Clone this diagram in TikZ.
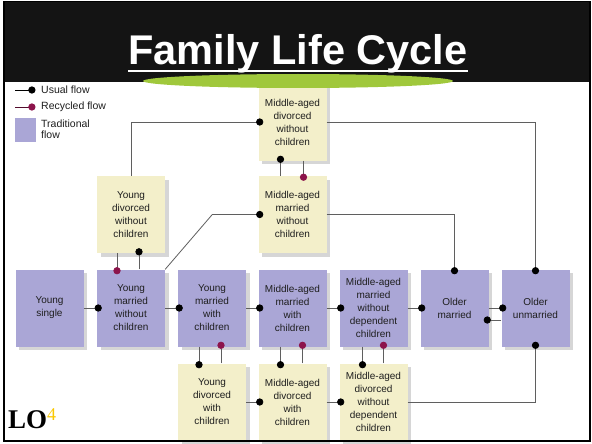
\documentclass[tikz,border=0pt]{standalone}
\usepackage{fontspec}
\setmainfont{Liberation Sans}
\newfontfamily\loserif{Liberation Serif}
\usetikzlibrary{arrows.meta,calc,shadows}

\definecolor{tradc}{RGB}{170,166,214}
\definecolor{altc}{RGB}{243,239,202}
\definecolor{shadowc}{RGB}{214,214,214}
\definecolor{linec}{RGB}{95,95,95}
\definecolor{recc}{RGB}{140,20,75}
\definecolor{loyellow}{RGB}{250,200,0}
\definecolor{bandc}{RGB}{20,20,20}
\definecolor{greenc}{RGB}{160,200,60}
\definecolor{textc}{RGB}{30,30,30}

\begin{document}
\begin{tikzpicture}[x=1pt,y=-1pt,
  stagebox/.style={minimum width=68pt, minimum height=77pt, inner sep=1pt,
    align=center, text=textc, font=\fontsize{10}{13}\selectfont,
    drop shadow={shadow xshift=3.5pt, shadow yshift=-3.5pt, fill=shadowc, opacity=1}},
  trad/.style={stagebox, fill=tradc},
  alt/.style={stagebox, fill=altc},
  conn/.style={draw=linec, line width=0.8pt, shorten >=-5pt},
  usual/.style={conn, -{Circle[length=7.2pt, color=black]}},
  recyc/.style={conn, -{Circle[length=7.2pt, color=recc]}},
  legtext/.style={anchor=west, inner sep=0pt, text=textc, font=\fontsize{10.5}{11}\selectfont}
]
\useasboundingbox (0,0) rectangle (592,444);
\fill[white] (0,0) rectangle (592,444);

% title band
\fill[bandc] (3,1) rectangle (591,82);
\node[anchor=base, inner sep=0pt, text=white,
      font=\fontsize{41.5}{41.5}\selectfont\bfseries] (title) at (298,65) {Family Life Cycle};
\draw[white, line width=2.5pt] ($(title.base west)+(0,6)$) -- ($(title.base east)+(0,6)$);

% legend
\coordinate (ua) at (15,90);
\coordinate (ub) at (35.5,90);
\coordinate (ra) at (15,107);
\coordinate (rb) at (35.5,107);
\draw[black, line width=0.8pt, -{Circle[length=7.2pt, color=black]}] (ua) -- (ub);
\draw[recc!60!black, line width=0.8pt, -{Circle[length=7.2pt, color=recc]}] (ra) -- (rb);
\node[legtext] (lu) at (41,90) {Usual flow};
\node[legtext] (lr) at (41,107) {Recycled flow};
\fill[tradc] (15,118) rectangle (36,142);
\node[legtext, anchor=north west, align=left] (lt) at (41,120) {Traditional\\flow};

% traditional stages
\node[trad] (ys)      at (49.5,308)  {Young\\single};
\node[trad] (ymwoc)   at (131,308)   {Young\\married\\without\\children};
\node[trad] (ymwc)    at (212,308)   {Young\\married\\with\\children};
\node[trad] (mamwc)   at (292.5,308) {Middle-aged\\married\\with\\children};
\node[trad] (mamwodc) at (373.5,308) {Middle-aged\\married\\without\\dependent\\children};
\node[trad] (om)      at (454.5,308) {Older\\married};
\node[trad] (ou)      at (535.5,308) {Older\\unmarried};

% other stages
\node[alt] (madwoc)  at (292.5,122)   {Middle-aged\\divorced\\without\\children};
\node[alt] (mamwoc)  at (292.5,214.5) {Middle-aged\\married\\without\\children};
\node[alt] (ydwoc)   at (131,214.5)   {Young\\divorced\\without\\children};
\node[alt] (ydwc)    at (212,402)     {Young\\divorced\\with\\children};
\node[alt] (madwc)   at (292.5,402)   {Middle-aged\\divorced\\with\\children};
\node[alt] (madwodc) at (373.5,402)   {Middle-aged\\divorced\\without\\dependent\\children};

% main sequence
\draw[usual] (ys) -- (ymwoc);
\draw[usual] (ymwoc) -- (ymwc);
\draw[usual] (ymwc) -- (mamwc);
\draw[usual] (mamwc) -- (mamwodc);
\draw[usual] (mamwodc) -- (om);
\draw[usual] (om.east) -- (ou.west);
\draw[usual] ($(ou.west)+(0,12)$) -- ($(om.east)+(0,12)$);

% young, without children
\draw[usual] ($(ymwoc.north)+(8,0)$) -- ($(ydwoc.south)+(8,0)$);
\draw[recyc] ($(ydwoc.south)+(-14,0)$) -- ($(ymwoc.north)+(-14,0)$);
\draw[usual] (ymwoc.north east) -- ($(mamwoc.west)+(-46,0)$) -- (mamwoc.west);
\draw[usual] (ydwoc.north) |- (madwoc.west);

% middle-aged, without children
\draw[usual] ($(mamwoc.north)+(-12,0)$) -- ($(madwoc.south)+(-12,0)$);
\draw[recyc] ($(madwoc.south)+(11,0)$) -- ($(mamwoc.north)+(11,0)$);
\draw[usual] (madwoc.east) -| (ou.north);
\draw[usual] (mamwoc.east) -| (om.north);

% divorced with children
\draw[usual] ($(ymwc.south)+(-13,0)$) -- ($(ydwc.north)+(-13,0)$);
\draw[recyc] ($(ydwc.north)+(9,0)$) -- ($(ymwc.south)+(9,0)$);
\draw[usual] ($(mamwc.south)+(-12,0)$) -- ($(madwc.north)+(-12,0)$);
\draw[recyc] ($(madwc.north)+(10,0)$) -- ($(mamwc.south)+(10,0)$);
\draw[usual] ($(mamwodc.south)+(-11,0)$) -- ($(madwodc.north)+(-11,0)$);
\draw[recyc] ($(madwodc.north)+(10,0)$) -- ($(mamwodc.south)+(10,0)$);
\draw[usual] (ydwc) -- (madwc);
\draw[usual] (madwc) -- (madwodc);
\draw[usual] (madwodc.east) -| (ou.south);

% accent under the title
\fill[greenc] (298,81) ellipse [x radius=155, y radius=7];

% slide frame
\draw[black, line width=1.6pt] (3.8,1.5) rectangle (590.2,441.2);

% objective tag
\node[anchor=base west, inner sep=0pt] (lo) at (8,428)
  {\loserif\bfseries\fontsize{27}{27}\selectfont LO\raisebox{8pt}{\mdseries\fontsize{18}{18}\selectfont\color{loyellow}4}};
\end{tikzpicture}
\end{document}
